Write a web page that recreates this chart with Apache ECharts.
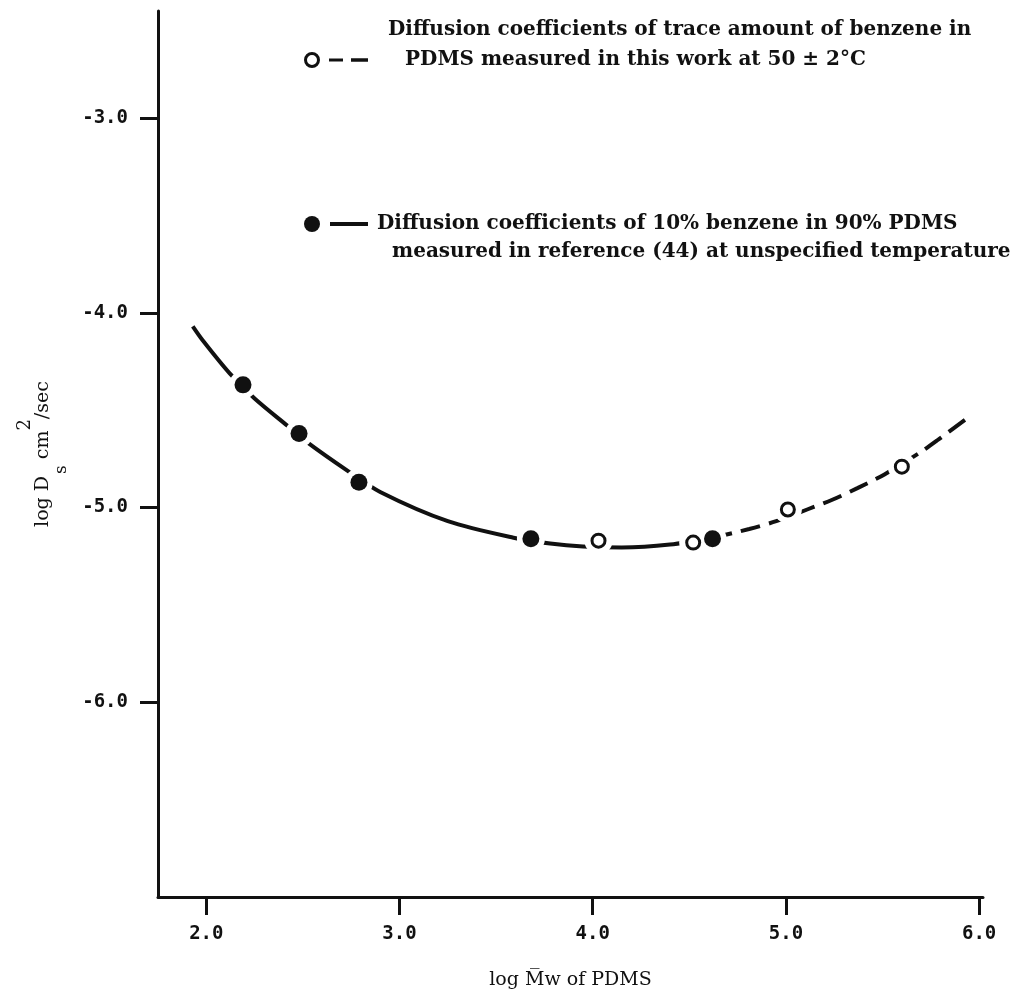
<!DOCTYPE html>
<html>
<head>
<meta charset="utf-8">
<script src="https://cdn.jsdelivr.net/npm/echarts@6.0.0/dist/echarts.min.js"></script>
<style>
  html, body { margin: 0; padding: 0; background: #fff; }
  #main { width: 1021px; height: 999px; }
</style>
</head>
<body>
<div id="main"></div>
<script>
// values (log Mw, log Ds)
var refPoints = [[2.19, -4.37], [2.48, -4.62], [2.79, -4.87], [3.68, -5.16], [4.62, -5.16]];   // filled, ref (44)
var thisWork = [[4.03, -5.17], [4.52, -5.18], [5.01, -5.01], [5.60, -4.79]];                   // open, this work
var fitLeft = [[1.93, -4.07], [1.98, -4.14], [2.12, -4.31], [2.25, -4.44], [2.42, -4.58], [2.53, -4.67],
    [2.73, -4.81], [2.90, -4.92], [3.25, -5.07], [3.59, -5.155], [3.78, -5.185], [3.95, -5.20],
    [4.15, -5.205], [4.40, -5.19], [4.62, -5.155]];
var fitRight = [[4.62, -5.155], [4.81, -5.11], [4.95, -5.07], [5.11, -5.01], [5.24, -4.96], [5.37, -4.90],
    [5.51, -4.83], [5.69, -4.72], [5.79, -4.65], [5.94, -4.54]];
var xTicks = [2, 3, 4, 5, 6];
var yTicks = [-6, -5, -4, -3];

var ink = '#111';
var serif = 'DejaVu Serif';
var tickFont = 'DejaVu Sans Mono';
var legendFont = 'bold 20px "DejaVu Serif"';

var chart = echarts.init(document.getElementById('main'));

var option = {
    backgroundColor: '#fff',
    animation: false,
    grid: { left: 158, right: 38, top: 11, bottom: 102, containLabel: false, outerBoundsMode: 'none' },
    xAxis: {
        type: 'value',
        min: 1.75,
        max: 6.02,
        name: 'log M\u0305w of PDMS',
        nameLocation: 'middle',
        nameGap: 74,
        nameTextStyle: { fontFamily: serif, fontSize: 19, color: ink },
        axisLine: { lineStyle: { color: ink, width: 3 } },
        axisTick: { customValues: xTicks, length: 18, lineStyle: { color: ink, width: 3 } },
        axisLabel: {
            customValues: xTicks, margin: 28, fontFamily: tickFont, fontWeight: 'bold', fontSize: 19, color: ink,
            formatter: function (v) { return v.toFixed(1); }
        },
        splitLine: { show: false }
    },
    yAxis: {
        type: 'value',
        min: -7,
        max: -2.45,
        name: '{b|log D}{sub|s}{b|cm}{sup|2}{b|/sec}',
        nameLocation: 'middle',
        nameRotate: 90,
        nameGap: 88,
        nameTextStyle: {
            fontFamily: serif, fontSize: 19, color: ink,
            rich: {
                b: { fontFamily: serif, fontSize: 19, color: ink, lineHeight: 54, verticalAlign: 'middle' },
                sub: { fontFamily: serif, fontSize: 17, color: ink, lineHeight: 17, verticalAlign: 'bottom', padding: [0, 6, 0, 2] },
                sup: { fontFamily: serif, fontSize: 18, color: ink, lineHeight: 18, verticalAlign: 'top' }
            }
        },
        axisLine: { lineStyle: { color: ink, width: 3 } },
        axisTick: { customValues: yTicks, length: 18, lineStyle: { color: ink, width: 3 } },
        axisLabel: {
            customValues: yTicks, margin: 30, fontFamily: tickFont, fontWeight: 'bold', fontSize: 19, color: ink,
            formatter: function (v) { return v.toFixed(1); }
        },
        splitLine: { show: false }
    },
    graphic: [
        // legend: this work
        { type: 'circle', shape: { cx: 312, cy: 60, r: 6.5 }, style: { fill: '#fff', stroke: ink, lineWidth: 3 } },
        { type: 'line', shape: { x1: 329, y1: 60, x2: 343, y2: 60 }, style: { stroke: ink, lineWidth: 3 } },
        { type: 'line', shape: { x1: 351, y1: 60, x2: 368, y2: 60 }, style: { stroke: ink, lineWidth: 3.5 } },
        { type: 'text', x: 388, y: 30, style: { text: 'Diffusion coefficients of trace amount of benzene in', font: legendFont, fill: ink, verticalAlign: 'middle' } },
        { type: 'text', x: 405, y: 60, style: { text: 'PDMS measured in this work at 50 \u00b1 2\u00b0C', font: legendFont, fill: ink, verticalAlign: 'middle' } },
        // legend: reference (44)
        { type: 'circle', shape: { cx: 312, cy: 224, r: 8 }, style: { fill: ink } },
        { type: 'line', shape: { x1: 330, y1: 224, x2: 368, y2: 224 }, style: { stroke: ink, lineWidth: 4 } },
        { type: 'text', x: 377, y: 224, style: { text: 'Diffusion coefficients of 10% benzene in 90% PDMS', font: legendFont, fill: ink, verticalAlign: 'middle' } },
        { type: 'text', x: 392, y: 252, style: { text: 'measured in reference (44) at unspecified temperature', font: legendFont, fill: ink, verticalAlign: 'middle' } }
    ],
    series: [
        {
            name: 'fit (ref)',
            type: 'line',
            data: fitLeft,
            smooth: 0.3,
            showSymbol: false,
            lineStyle: { color: ink, width: 4 },
            z: 1
        },
        {
            name: 'fit (this work)',
            type: 'line',
            data: fitRight,
            smooth: 0.3,
            showSymbol: false,
            lineStyle: { color: ink, width: 4, type: [20, 9] },
            z: 1
        },
        {
            name: 'gap',
            type: 'scatter',
            data: refPoints.concat(thisWork),
            symbolSize: 28,
            itemStyle: { color: '#fff', opacity: 1 },
            z: 2
        },
        {
            name: 'reference (44)',
            type: 'scatter',
            data: refPoints,
            symbolSize: 17,
            itemStyle: { color: ink, opacity: 1 },
            z: 3
        },
        {
            name: 'this work',
            type: 'scatter',
            data: thisWork,
            symbolSize: 13,
            itemStyle: { color: '#fff', borderColor: ink, borderWidth: 3, opacity: 1 },
            z: 3
        }
    ]
};

chart.setOption(option);
</script>
</body>
</html>
